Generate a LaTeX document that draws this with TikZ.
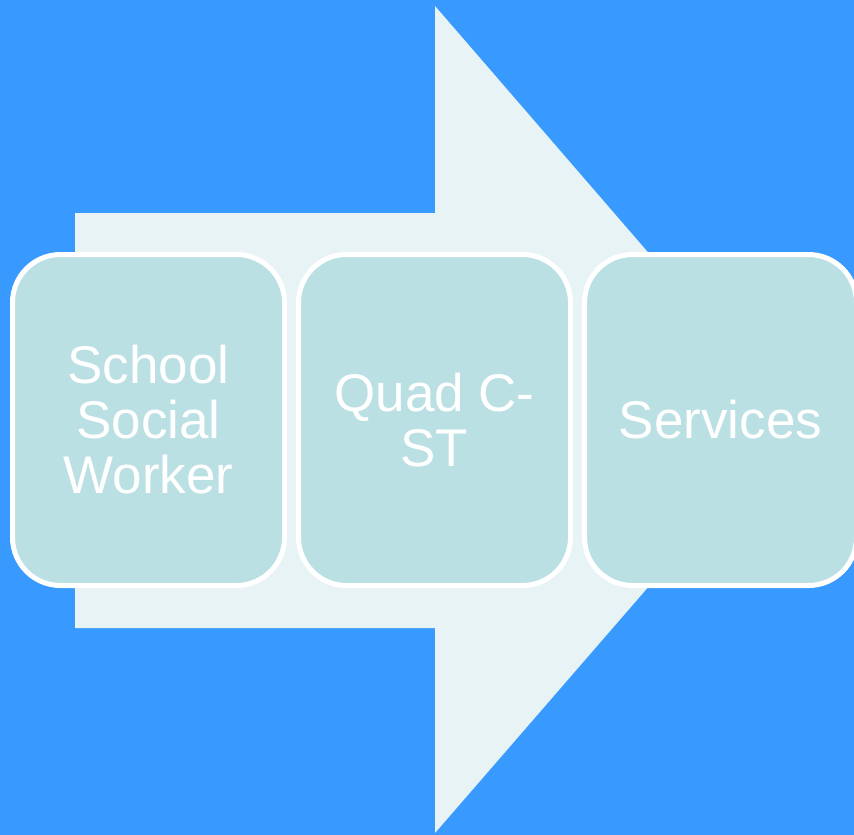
\documentclass[tikz,border=0pt]{standalone}
\usepackage{fontspec}
\newfontfamily\boxfont{Liberation Sans}
\usetikzlibrary{positioning}
\definecolor{bgblue}{HTML}{3899FF}
\definecolor{arrowfill}{HTML}{E8F3F5}
\definecolor{boxfill}{HTML}{BBE0E3}
\tikzset{
	stepbox/.style={draw=white,line width=5pt,fill=boxfill,rounded corners=48pt,
		minimum width=272pt,minimum height=331pt,inner sep=0pt,outer sep=2.5pt,
		align=center,text=white,font=\boxfont\fontsize{53}{55}\selectfont},
}
\begin{document}
\begin{tikzpicture}[x=1pt,y=-1pt,node distance=9pt]
		\fill[bgblue](0,0)rectangle(854,835);
		\useasboundingbox(0,0)rectangle(854,835);
		\clip(0,0)rectangle(854,835);
		\fill[arrowfill](75,213)--(435,213)--(435,6)--(793,420)--(435,833)--(435,628)--(75,628)--cycle;
		\node[stepbox](worker)at(148.5,420){School\\Social\\Worker};
		\node[stepbox,right=of worker](quad){Quad C-\\ST};
		\node[stepbox,right=of quad](services){Services};
	\end{tikzpicture}
\end{document}
